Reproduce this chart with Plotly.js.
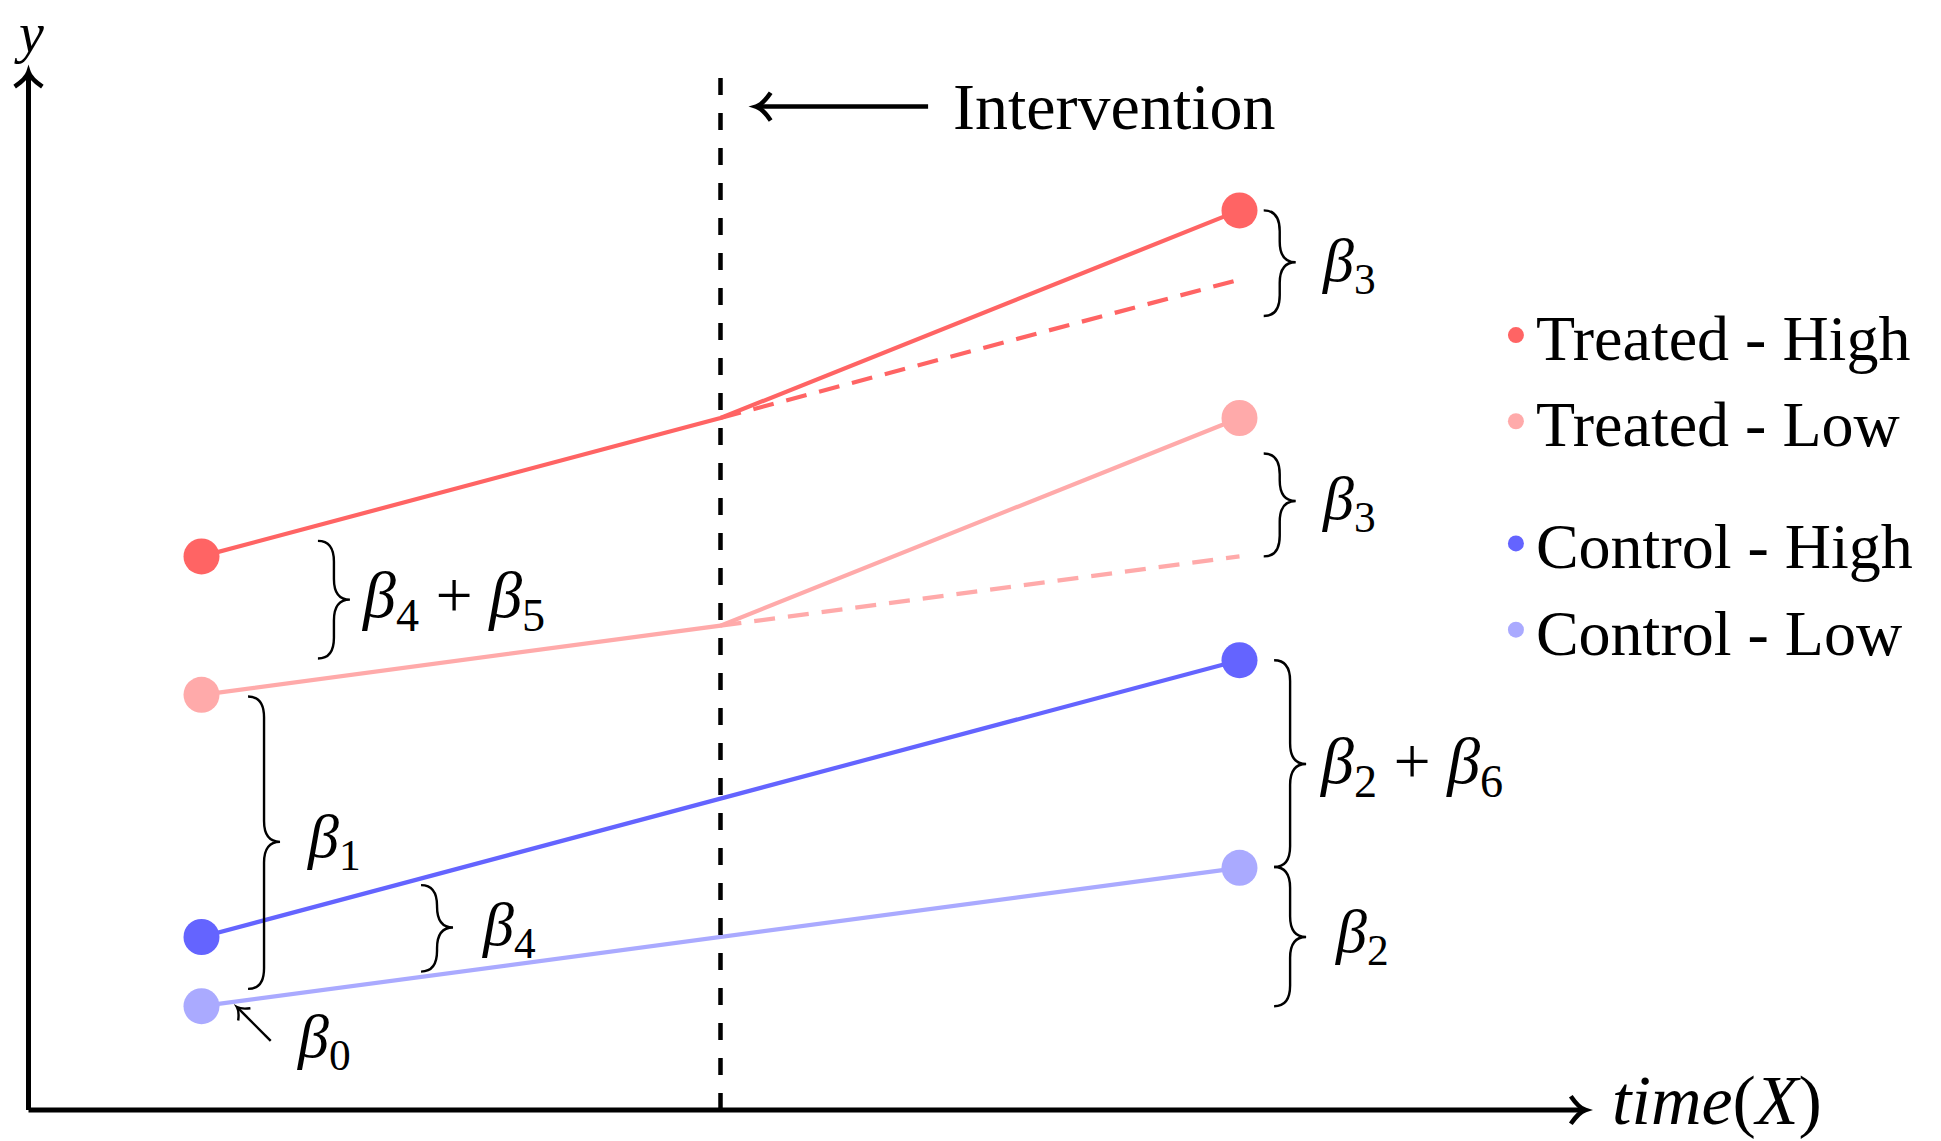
<!DOCTYPE html>
<html>
<head>
<meta charset="utf-8">
<script src="https://cdn.plot.ly/plotly-3.0.1.min.js"></script>
<style>
html, body { margin: 0; padding: 0; background: #ffffff; }
#chart { width: 1941px; height: 1141px; }
</style>
</head>
<body>
<div id="chart"></div>
<script>
// ---------------- DATA ----------------
const timeValues = [1, 4, 7];              // pre, intervention, post
const interventionTime = 4;
const counterfactualTimes = [4, 7];
const seriesNames = ['Treated - High', 'Treated - Low', 'Control - High', 'Control - Low'];
const treatedHigh = [3.2, 4.0, 5.2];
const treatedLow = [2.4, 2.8, 4.0];
const controlHigh = [1.0, 1.8, 2.6];
const controlLow = [0.6, 1.0, 1.4];
const treatedHighCounterfactual = [4.0, 4.8];
const treatedLowCounterfactual = [2.8, 3.2];
const axisMaxX = 9;
const axisMaxY = 6;

// ---------------- STYLE ----------------
const colors = ['#ff6464', '#ffaaaa', '#6464ff', '#aaaaff'];
const groups = ['treated', 'treated', 'control', 'control'];
const FONT = 'Liberation Serif, Times New Roman, serif';
const W = 1941, H = 1141;
const U = 173;              // pixels per unit
const ox = 28.5, oy = 1110; // pixel position of origin

const xRange = [-ox / U, (W - ox) / U];
const yRange = [-(H - oy) / U, oy / U];

const allSeries = [treatedHigh, treatedLow, controlHigh, controlLow];
const counterfactuals = [treatedHighCounterfactual, treatedLowCounterfactual, null, null];

const traces = [];
// lines
allSeries.forEach((s, i) => {
  traces.push({
    x: timeValues, y: s, mode: 'lines', type: 'scatter',
    line: { color: colors[i], width: 4.2 },
    showlegend: false, hoverinfo: 'skip'
  });
  if (counterfactuals[i]) {
    traces.push({
      x: counterfactualTimes, y: counterfactuals[i], mode: 'lines', type: 'scatter',
      line: { color: colors[i], width: 4.2, dash: '21px,13px' },
      showlegend: false, hoverinfo: 'skip'
    });
  }
});
// endpoint markers (legend entries)
allSeries.forEach((s, i) => {
  traces.push({
    x: [timeValues[0], timeValues[timeValues.length - 1]],
    y: [s[0], s[s.length - 1]],
    mode: 'markers', type: 'scatter', name: seriesNames[i],
    legendgroup: groups[i],
    marker: { color: colors[i], size: 36 },
    hoverinfo: 'skip'
  });
});

// ---------------- DECORATION HELPERS ----------------
function arrowHead(tx, ty, dx, dy, L, hw) {
  const n = Math.hypot(dx, dy); dx /= n; dy /= n;
  const px = -dy, py = dx;
  const bx = tx - dx * L, by = ty - dy * L;
  const p1 = [bx + px * hw, by + py * hw], p2 = [bx - px * hw, by - py * hw];
  const c1 = [tx - dx * L * 0.45 + px * hw * 0.15, ty - dy * L * 0.45 + py * hw * 0.15];
  const c2 = [tx - dx * L * 0.45 - px * hw * 0.15, ty - dy * L * 0.45 - py * hw * 0.15];
  return `M${p1[0]},${p1[1]} Q${c1[0]},${c1[1]} ${tx},${ty} Q${c2[0]},${c2[1]} ${p2[0]},${p2[1]}`;
}
function brace(x0, yT, yB, yM, w, q) {
  const h = w / 2;
  return `M${x0},${yT} Q${x0 + h},${yT} ${x0 + h},${yT - q} L${x0 + h},${yM + q} ` +
         `Q${x0 + h},${yM} ${x0 + w},${yM} Q${x0 + h},${yM} ${x0 + h},${yM - q} ` +
         `L${x0 + h},${yB + q} Q${x0 + h},${yB} ${x0},${yB}`;
}

const shapes = [];
const black = '#000000';
// axes
shapes.push({ type: 'line', xref: 'x', yref: 'y', x0: 0, y0: 0, x1: 0, y1: axisMaxY - 0.01, line: { color: black, width: 5 } });
shapes.push({ type: 'line', xref: 'x', yref: 'y', x0: 0, y0: 0, x1: axisMaxX - 0.01, y1: 0, line: { color: black, width: 5 } });
shapes.push({ type: 'path', xref: 'x', yref: 'y', path: arrowHead(0, axisMaxY, 0, 1, 0.085, 0.08), line: { color: black, width: 4.5 } });
shapes.push({ type: 'path', xref: 'x', yref: 'y', path: arrowHead(axisMaxX, 0, 1, 0, 0.085, 0.08), line: { color: black, width: 4.5 } });
// intervention line
shapes.push({ type: 'line', xref: 'x', yref: 'y', x0: interventionTime, y0: 0, x1: interventionTime, y1: axisMaxY + 0.01,
  line: { color: black, width: 4.5, dash: '17px,18px' } });
// intervention arrow
const intArrowY = 5.80;
shapes.push({ type: 'line', xref: 'x', yref: 'y', x0: 5.2, y0: intArrowY, x1: 4.22, y1: intArrowY, line: { color: black, width: 4.5 } });
shapes.push({ type: 'path', xref: 'x', yref: 'y', path: arrowHead(4.205, intArrowY, -1, 0, 0.085, 0.08), line: { color: black, width: 4.5 } });
// beta0 arrow
shapes.push({ type: 'line', xref: 'x', yref: 'y', x0: 1.40, y0: 0.40, x1: 1.21, y1: 0.59, line: { color: black, width: 2.4 } });
shapes.push({ type: 'path', xref: 'x', yref: 'y', path: arrowHead(1.205, 0.595, -1, 1, 0.06, 0.05), line: { color: black, width: 2.4 } });

// braces: [x0, yTop, yBottom, yTip]
const braceSpecs = [
  [7.14, 5.20, 4.59, 4.90],
  [7.14, 3.795, 3.20, 3.52],
  [1.673, 3.29, 2.61, 2.95],
  [1.269, 2.39, 0.70, 1.55],
  [2.269, 1.30, 0.80, 1.055],
  [7.20, 2.60, 1.405, 2.00],
  [7.20, 1.405, 0.60, 1.00]
];
braceSpecs.forEach(b => {
  shapes.push({ type: 'path', xref: 'x', yref: 'y', path: brace(b[0], b[1], b[2], b[3], 0.185, 0.12),
    line: { color: black, width: 2.4 } });
});

// ---------------- TEXT ----------------
const textFont = { family: FONT, size: 62, color: black };
function label(x, y, text, extra) {
  return Object.assign({ x: x, y: y, xref: 'x', yref: 'y', text: text, showarrow: false,
    xanchor: 'left', yanchor: 'middle', font: textFont }, extra || {});
}
const annotations = [
  label(0.003, 1, '<i>y</i>', { yref: 'paper', yanchor: 'top', xanchor: 'center',
    font: { family: FONT, size: 56, color: black } }),
  label(9.14, 0, '<i>time</i>(<i>X</i>)', { yref: 'paper', yanchor: 'bottom',
    font: { family: FONT, size: 70, color: black } }),
  label(5.33, 5.80, 'Intervention', { font: { family: FONT, size: 66, color: black } }),
  label(7.466, 4.89, '<i>β</i><sub>3</sub>'),
  label(7.466, 3.51, '<i>β</i><sub>3</sub>'),
  label(1.91, 2.95, '<i>β</i><sub>4</sub> + <i>β</i><sub>5</sub>', { font: { family: FONT, size: 66, color: black } }),
  label(1.60, 1.555, '<i>β</i><sub>1</sub>'),
  label(2.61, 1.05, '<i>β</i><sub>4</sub>'),
  label(1.54, 0.40, '<i>β</i><sub>0</sub>'),
  label(7.448, 1.99, '<i>β</i><sub>2</sub> + <i>β</i><sub>6</sub>', { font: { family: FONT, size: 66, color: black } }),
  label(7.54, 1.006, '<i>β</i><sub>2</sub>')
];

const layout = {
  width: W, height: H, autosize: false,
  margin: { l: 0, r: 0, t: 0, b: 0, pad: 0 },
  paper_bgcolor: '#ffffff', plot_bgcolor: '#ffffff',
  xaxis: { range: xRange, visible: false, fixedrange: true },
  yaxis: { range: yRange, visible: false, fixedrange: true },
  showlegend: true,
  legend: {
    x: 0.7707, y: 0.7485, xanchor: 'left', yanchor: 'top',
    bgcolor: 'rgba(0,0,0,0)', borderwidth: 0,
    font: { family: FONT, size: 64, color: black },
    traceorder: 'grouped', tracegroupgap: 36, itemsizing: 'trace'
  },
  shapes: shapes,
  annotations: annotations,
  hovermode: false
};

Plotly.newPlot('chart', traces, layout, { staticPlot: true, displayModeBar: false });
</script>
</body>
</html>
